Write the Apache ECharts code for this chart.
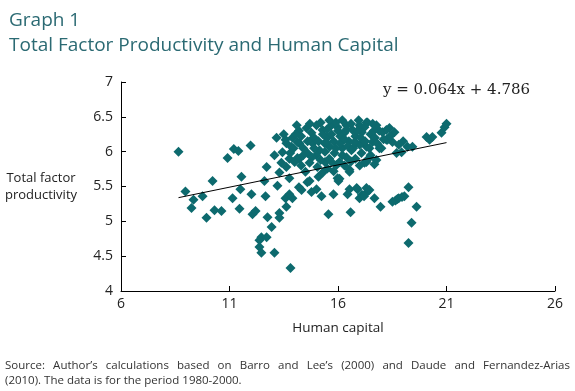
<!DOCTYPE html>
<html>
<head>
<meta charset="utf-8">
<script src="https://cdn.jsdelivr.net/npm/echarts@6/dist/echarts.min.js"></script>
<style>
  html, body { margin: 0; padding: 0; background: #fff; }
  #chart { width: 575px; height: 391px; position: relative; }
  .source {
    position: absolute; left: 5px; top: 357px; width: 565px;
    font-family: "Open Sans", sans-serif; font-size: 11.5px; line-height: 15px;
    color: #333;
  }
  .source .l1 { text-align: justify; text-align-last: justify; }
</style>
</head>
<body>
<div id="chart"></div>
<div class="source"><div class="l1">Source: Author’s calculations based on Barro and Lee’s (2000) and Daude and Fernandez-Arias</div><div>(2010). The data is for the period 1980-2000.</div></div>
<script>
// human capital (x) / total factor productivity (y)
var lowerPoints = [
  [8.65, 6.0], [8.97, 5.43], [9.34, 5.31], [9.25, 5.19], [9.76, 5.36], [9.94, 5.05],
  [10.22, 5.58], [10.31, 5.16], [10.63, 5.15], [10.91, 5.91], [11.14, 5.33], [11.41, 6.01],
  [11.5, 5.46], [11.55, 5.64], [11.46, 5.18], [11.97, 6.09], [12.01, 5.39], [12.06, 5.1],
  [12.61, 5.58], [12.66, 5.36], [12.75, 5.06], [13.21, 5.51], [12.94, 4.92], [13.3, 5.12],
  [13.3, 5.05], [13.58, 5.33], [13.62, 5.21], [13.9, 5.33], [14.32, 5.45], [14.59, 5.56],
  [14.78, 5.42], [12.47, 4.77], [12.38, 4.73], [12.71, 4.77], [12.38, 4.63], [12.47, 4.55],
  [13.07, 4.55], [13.81, 4.33], [13.76, 5.62], [11.2, 6.04], [12.2, 5.15]
];
var lowerRight = [
  [16.02, 5.58], [15.01, 5.46], [15.24, 5.36], [15.79, 5.39], [16.44, 5.39], [16.9, 5.46],
  [16.99, 5.33], [17.31, 5.41], [17.45, 5.45], [17.68, 5.33], [17.96, 5.21], [15.56, 5.1],
  [16.58, 5.13], [18.51, 5.28], [18.74, 5.32], [19.06, 5.36], [19.25, 5.49], [19.62, 5.21],
  [19.39, 4.98], [19.25, 4.69], [14.69, 5.58], [17.1, 5.38], [17.2, 5.36], [18.65, 5.3],
  [18.8, 5.33], [18.95, 5.35], [14.2, 5.49], [13.76, 5.39], [16.53, 5.46], [16.86, 5.48],
  [17.31, 5.48]
];
var middlePoints = [
  [13.3, 5.7], [13.62, 5.78], [14.5, 5.71], [15.1, 5.64], [15.98, 5.62], [13.44, 5.99],
  [13.76, 5.9], [14.22, 5.9], [14.69, 5.84], [15.05, 5.78], [15.51, 5.76], [15.93, 5.81],
  [16.53, 5.74], [17.31, 5.85], [17.68, 5.82], [17.08, 5.98], [16.07, 5.85], [17.77, 5.88],
  [17.22, 5.84], [16.53, 5.71], [16.07, 5.61], [13.07, 5.95], [13.39, 5.84], [12.71, 5.78],
  [14.13, 5.91], [15.4, 5.85], [14.0, 5.85], [16.8, 5.9], [15.6, 5.9], [15.3, 5.7],
  [15.8, 5.72], [16.3, 5.8], [14.3, 5.8], [17.0, 5.8]
];
var upperPoints = [
  [14.55, 6.34], [15.01, 6.38], [14.78, 6.27], [15.29, 6.31], [15.7, 6.38], [15.98, 6.35],
  [16.39, 6.38], [16.3, 6.27], [16.67, 6.31], [16.99, 6.38], [17.31, 6.42], [17.77, 6.38],
  [18.05, 6.28], [18.37, 6.34], [18.23, 6.17], [18.51, 6.14], [17.91, 6.05], [17.59, 6.14],
  [17.31, 6.07], [16.85, 6.12], [16.62, 6.02], [16.39, 5.92], [15.84, 5.98], [15.61, 6.07],
  [15.38, 6.12], [15.15, 6.02], [14.83, 6.12], [14.59, 5.98], [14.22, 6.12], [13.9, 6.2],
  [13.62, 6.12], [18.93, 5.99], [18.7, 5.98], [19.43, 6.07], [19.2, 6.07], [20.08, 6.21],
  [20.22, 6.17], [20.35, 6.21], [20.77, 6.27], [20.91, 6.35], [21.0, 6.4], [18.28, 6.17],
  [18.0, 6.05], [17.22, 6.35], [17.36, 6.42], [18.23, 6.31], [13.17, 6.2], [13.58, 6.17],
  [13.85, 6.07], [14.13, 6.14], [14.78, 6.17], [15.5, 6.2], [15.8, 6.15], [16.1, 6.22],
  [16.2, 6.05], [15.3, 6.25], [14.9, 6.2], [14.4, 6.05], [15.0, 5.95], [16.0, 6.3],
  [16.5, 6.15], [16.8, 6.22], [17.0, 6.1], [17.1, 6.28], [17.5, 6.25], [17.7, 6.2],
  [14.2, 6.3], [13.95, 6.05], [15.9, 6.42], [16.6, 6.4], [15.2, 6.42], [14.7, 6.4],
  [16.2, 6.45], [17.9, 6.3], [18.6, 6.28], [19.0, 6.15], [18.8, 6.1], [17.5, 5.95],
  [13.5, 6.25], [14.1, 6.38]
];
var corePoints = [
  [14.3, 6.22], [14.6, 6.15], [14.9, 6.05], [15.1, 6.15], [15.4, 6.0], [15.5, 6.32],
  [15.7, 6.25], [15.9, 6.05], [16.1, 6.12], [16.3, 6.18], [16.45, 6.08], [16.7, 6.05],
  [16.9, 6.3], [17.05, 6.2], [17.25, 6.15], [17.45, 6.05], [17.65, 6.3], [17.8, 6.12],
  [18.1, 6.18], [18.4, 6.22], [14.4, 5.95], [14.8, 5.92], [15.2, 5.88], [15.7, 5.85],
  [16.2, 5.95], [16.6, 5.86], [17.4, 5.9], [13.8, 5.98], [14.05, 6.25], [15.6, 6.45],
  [16.95, 6.45], [17.6, 6.4], [16.4, 6.32], [15.45, 6.13], [16.75, 6.13]
];

// trend line y = 0.064x + 4.786 over the data range
var slope = 0.064;
var intercept = 4.786;
var trendX = [8.65, 21.0];

var xTicks = { min: 6, max: 26, interval: 5 };
var yTicks = { min: 4, max: 7, interval: 0.5 };

var teal = '#0d6a6e';
var allPoints = lowerPoints.concat(lowerRight, middlePoints, upperPoints, corePoints);
var trendLine = trendX.map(function (x) { return [x, +(slope * x + intercept).toFixed(3)]; });

var myChart = echarts.init(document.getElementById('chart'));
var option = {
  animation: false,
  textStyle: { fontFamily: '"Open Sans", sans-serif' },
  title: {
    text: 'Graph 1\nTotal Factor Productivity and Human Capital',
    left: 4,
    top: 3,
    textStyle: {
      color: '#2b6a73',
      fontSize: 19,
      fontWeight: 'normal',
      lineHeight: 25,
      fontFamily: '"Open Sans", sans-serif'
    }
  },
  grid: { left: 121, right: 20, top: 82, bottom: 100 },
  xAxis: {
    type: 'value',
    min: xTicks.min, max: xTicks.max, interval: xTicks.interval,
    name: 'Human capital',
    nameLocation: 'middle',
    nameGap: 30,
    nameTextStyle: { color: '#222', fontSize: 13.5 },
    axisLine: { lineStyle: { color: '#000', width: 1 } },
    axisTick: { inside: true, length: 5, lineStyle: { color: '#000' } },
    axisLabel: { color: '#222', fontSize: 14, margin: 6 },
    splitLine: { show: false }
  },
  yAxis: {
    type: 'value',
    min: yTicks.min, max: yTicks.max, interval: yTicks.interval,
    name: 'Total factor\nproductivity',
    nameLocation: 'middle',
    nameRotate: 0,
    nameGap: 80,
    nameTextStyle: { color: '#222', fontSize: 13, align: 'center', lineHeight: 17 },
    axisLine: { show: true, lineStyle: { color: '#000', width: 1 } },
    axisTick: { show: true, inside: true, length: 5, lineStyle: { color: '#000' } },
    axisLabel: { color: '#222', fontSize: 14, margin: 8 },
    splitLine: { show: false }
  },
  graphic: [{
    type: 'text',
    left: 383,
    top: 83,
    style: {
      text: 'y = 0.064x + 4.786',
      fill: '#222',
      font: '15px "DejaVu Serif", serif'
    }
  }],
  series: [
    {
      type: 'scatter',
      symbol: 'diamond',
      symbolSize: 10,
      itemStyle: { color: teal, opacity: 1 },
      data: allPoints,
      z: 2
    },
    {
      type: 'line',
      data: trendLine,
      symbol: 'none',
      lineStyle: { color: '#000', width: 1 },
      z: 3
    }
  ]
};
myChart.setOption(option);
</script>
</body>
</html>
